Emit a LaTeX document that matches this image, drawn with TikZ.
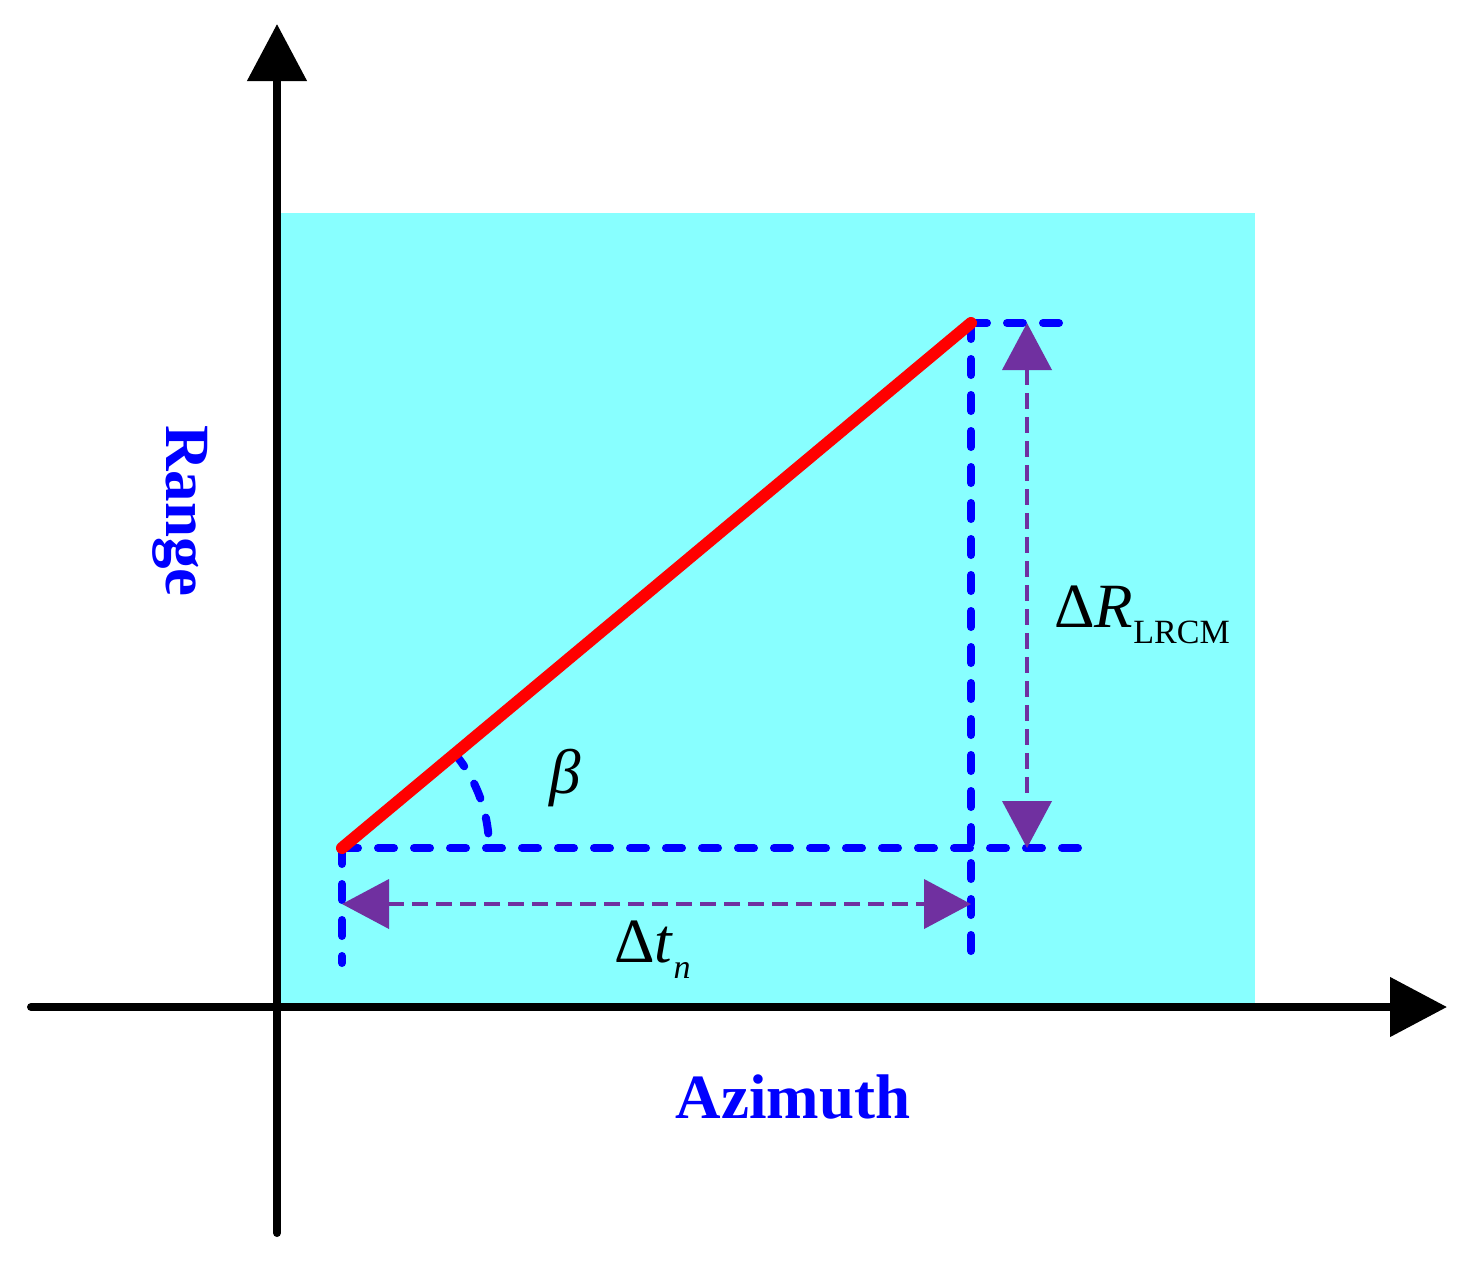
\documentclass[tikz,border=0pt]{standalone}
\usepackage{fontspec}
\setmainfont{Liberation Serif}
\usetikzlibrary{arrows.meta}
\definecolor{bgcyan}{RGB}{136,255,255}
\definecolor{dimpurple}{RGB}{112,48,160}
\definecolor{pureblue}{RGB}{0,0,255}
\definecolor{purered}{RGB}{255,0,0}
\tikzset{
  axis/.style={line width=4pt, line cap=round, -{Triangle[length=28.5pt,width=29pt]}},
  guide/.style={pureblue, line width=4pt, line cap=round, dash pattern=on 8pt off 10pt},
  dimline/.style={dimpurple, line width=2pt, dash pattern=on 8pt off 4pt,
     {Triangle[length=23.5pt,width=24.5pt]}-{Triangle[length=23.5pt,width=24.5pt]}},
  track/.style={purered, line width=6pt, line cap=round},
  bigtext/.style={font=\fontsize{31.5}{36}\selectfont, inner sep=0pt},
  axlabel/.style={bigtext, font=\fontsize{31.5}{36}\selectfont\bfseries, text=pureblue}
}
\begin{document}
\begin{tikzpicture}[x=0.5pt,y=-0.5pt]
\useasboundingbox (0,0) rectangle (1466,1270);
\fill[bgcyan] (280,213) rectangle (1255,1003);
% axes
\coordinate (xs) at (31,1007);
\coordinate (xe) at (1447,1007);
\coordinate (ys) at (277,1233);
\coordinate (ye) at (277,24);
\draw[axis] (xs) -- (xe);
\draw[axis] (ys) -- (ye);
% key points
\coordinate (O) at (342,848);
\coordinate (E) at (971,323);
\coordinate (Hend) at (1082,848);
\coordinate (Tend) at (1063,323);
\coordinate (Vbot) at (971,957);
\coordinate (Lbot) at (342,963);
\coordinate (HL) at (342,904);
\coordinate (HR) at (971,904);
\coordinate (VT) at (1027,323);
\coordinate (VB) at (1027,848);
% blue dashed guides
\draw[guide] (O) -- (Hend);
\draw[guide] (E) -- (Tend);
\draw[guide] (E) -- (Vbot);
\draw[guide] (O) -- (Lbot);
\draw[guide] (O) ++(-40:147) arc[start angle=-40,end angle=0,radius=147];
% purple dimension arrows
\draw[dimline] (HL) -- (HR);
\draw[dimline] (VT) -- (VB);
% red track
\draw[track] (O) -- (E);
% labels
\node[bigtext, anchor=base] (beta) at (565,793) {\itshape β};
\node[bigtext, anchor=base west] (dt) at (614,962) {Δ\textit{t}\raisebox{-8pt}{\fontsize{17}{20}\selectfont\itshape n}};
\node[bigtext, anchor=base west] (dr) at (1054,627) {Δ\textit{R}\raisebox{-8pt}{\fontsize{17}{20}\selectfont LRCM}};
\node[axlabel, rotate=-90] (range) at (180,511) {Range};
\node[axlabel] (az) at (793,1097) {Azimuth};
\end{tikzpicture}
\end{document}
